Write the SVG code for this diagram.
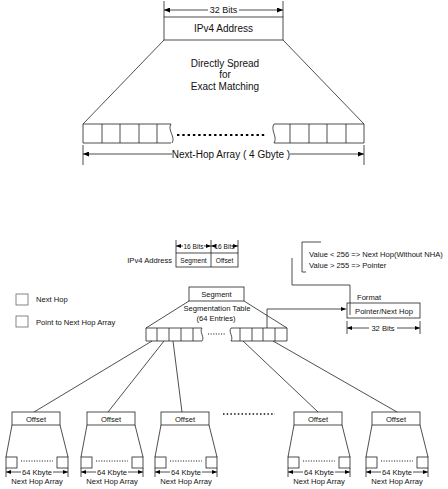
<svg xmlns="http://www.w3.org/2000/svg" width="448" height="489" viewBox="0 0 448 489">
<defs>
<marker id="arr" viewBox="0 0 10 10" refX="10" refY="5" markerWidth="6" markerHeight="5" markerUnits="userSpaceOnUse" orient="auto-start-reverse" preserveAspectRatio="none"><path d="M0,0 L10,5 L0,10 Z" fill="#000"/></marker>
<marker id="arrs" viewBox="0 0 10 10" refX="10" refY="5" markerWidth="5" markerHeight="4" markerUnits="userSpaceOnUse" orient="auto-start-reverse" preserveAspectRatio="none"><path d="M0,0 L10,5 L0,10 Z" fill="#000"/></marker>
</defs>
<style>
text{font-family:"Liberation Sans",Arial,sans-serif;fill:#111}
.ln{stroke:#222;stroke-width:0.8;fill:none}
.box{stroke:#222;stroke-width:0.8;fill:#fff}
.big{font-size:10px}
.mid{font-size:9px}
.sm{font-size:7.6px}
.xs{font-size:6.6px}
.c{text-anchor:middle}
.dots{stroke:#000;stroke-width:2.2;stroke-dasharray:2.4 2.9;fill:none}
.dots2{stroke:#222;stroke-width:1.2;stroke-dasharray:1.1 1.5;fill:none}
.sq{stroke:#666;stroke-width:0.8;fill:#fff}
</style>
<rect width="448" height="489" fill="#fff"/>

<!-- Top: direct spread -->
<g id="top-dim">
<line class="ln" x1="164" y1="1" x2="164" y2="17"/>
<line class="ln" x1="283" y1="1" x2="283" y2="17"/>
<line class="ln" x1="164" y1="10" x2="208" y2="10" marker-start="url(#arr)"/>
<line class="ln" x1="239" y1="10" x2="283" y2="10" marker-end="url(#arr)"/>
<text class="mid c" x="223.5" y="13.2">32 Bits</text>
</g>
<g id="ipv4-top">
<rect class="box" x="164" y="17" width="119" height="23"/>
<text class="big c" x="223.5" y="32">IPv4 Address</text>
</g>
<g id="spread-label">
<line class="ln" x1="164" y1="40" x2="83" y2="124"/>
<line class="ln" x1="283" y1="40" x2="364" y2="124"/>
<text class="big c" x="225" y="66.5">Directly Spread</text>
<text class="big c" x="225" y="77.5">for</text>
<text class="big c" x="225" y="89.5">Exact Matching</text>
</g>
<g id="next-hop-array">
<path class="ln" d="M171,124 H83 V143 H171"/>
<path class="ln" d="M102,124 V143 M120,124 V143 M139,124 V143 M157,124 V143"/>
<path class="ln" d="M171,124 C167,130 176,137 172,143"/>
<line class="dots" x1="177" y1="135" x2="267" y2="135"/>
<path class="ln" d="M274,124 H364 V143 H274"/>
<path class="ln" d="M274,124 C270,130 278,137 274,143"/>
<path class="ln" d="M290,124 V143 M309,124 V143 M327,124 V143 M346,124 V143"/>
</g>
<g id="array-dim">
<line class="ln" x1="83" y1="145" x2="83" y2="165"/>
<line class="ln" x1="364" y1="145" x2="364" y2="165"/>
<line class="ln" x1="83" y1="154" x2="172" y2="154" marker-start="url(#arr)"/>
<line class="ln" x1="290" y1="154" x2="364" y2="154" marker-end="url(#arr)"/>
<text class="big c" x="231" y="157.5">Next-Hop Array ( 4 Gbyte )</text>
</g>

<!-- Bottom: segmentation -->
<g id="legend">
<rect class="sq" x="16" y="294" width="12" height="11"/>
<text class="sm" x="36" y="302">Next Hop</text>
<rect class="sq" x="16" y="316" width="12" height="11"/>
<text class="sm" x="36" y="325">Point to Next Hop Array</text>
</g>
<g id="ipv4-split">
<text class="sm" x="172" y="263" text-anchor="end">IPv4 Address</text>
<rect class="box" x="176" y="253" width="62" height="14"/>
<line class="ln" x1="211" y1="253" x2="211" y2="267"/>
<text class="xs c" x="193.5" y="262.5">Segment</text>
<text class="xs c" x="224.5" y="262.5">Offset</text>
<line class="ln" x1="176" y1="240" x2="176" y2="253"/>
<line class="ln" x1="211" y1="240" x2="211" y2="253"/>
<line class="ln" x1="238" y1="240" x2="238" y2="253"/>
<line class="ln" x1="176" y1="246" x2="183" y2="246" marker-start="url(#arrs)"/>
<line class="ln" x1="204" y1="246" x2="211" y2="246" marker-end="url(#arrs)"/>
<line class="ln" x1="211" y1="246" x2="214" y2="246" marker-start="url(#arrs)"/>
<line class="ln" x1="235" y1="246" x2="238" y2="246" marker-end="url(#arrs)"/>
<text class="xs c" x="193.5" y="248.5">16 Bits</text>
<text class="xs c" x="224.5" y="248.5">16 Bits</text>
</g>
<g id="segment-key">
<rect class="box" x="189" y="287" width="55" height="14"/>
<text class="sm c" x="216.5" y="297">Segment</text>
</g>
<g id="segmentation-table">
<line class="ln" x1="189" y1="301" x2="146" y2="328"/>
<line class="ln" x1="244" y1="301" x2="287" y2="328"/>
<text class="sm c" x="217" y="311">Segmentation Table</text>
<text class="sm c" x="216" y="321">(64 Entries)</text>
<path class="ln" d="M202,328 H146 V341 H202"/>
<path class="ln" d="M157,328 V341 M169,328 V341 M181,328 V341 M193,328 V341"/>
<path class="ln" d="M202,328 C199,332 205,337 202,341"/>
<line class="dots2" x1="208" y1="334" x2="226" y2="334"/>
<path class="ln" d="M231,328 H287 V341 H231"/>
<path class="ln" d="M231,328 C228,332 234,337 231,341"/>
<path class="ln" d="M240,328 V341 M252,328 V341 M263,328 V341 M275,328 V341"/>
</g>
<g id="value-note">
<path class="ln" d="M321,242 H302 V272 H306"/>
<text class="sm" x="309" y="256.5">Value &lt; 256 =&gt; Next Hop(Without NHA)</text>
<text class="sm" x="309" y="267.5">Value &gt; 255 =&gt; Pointer</text>
</g>
<g id="format">
<text class="sm" x="357" y="299.5">Format</text>
<rect class="box" x="347" y="303" width="73" height="15"/>
<text class="sm c" x="384" y="314">Pointer/Next Hop</text>
<line class="ln" x1="347" y1="321" x2="347" y2="334"/>
<line class="ln" x1="420" y1="321" x2="420" y2="334"/>
<line class="ln" x1="347" y1="328" x2="369" y2="328" marker-start="url(#arrs)"/>
<line class="ln" x1="397" y1="328" x2="420" y2="328" marker-end="url(#arrs)"/>
<text class="sm c" x="383" y="331">32 Bits</text>
</g>

<g id="connectors">
<path class="ln" d="M267,328 V309 H346" marker-end="url(#arrs)"/>
<path class="ln" d="M292,258 V285 H350 V315"/>
<line class="ln" x1="152" y1="341" x2="34" y2="412"/>
<line class="ln" x1="164" y1="341" x2="108" y2="412"/>
<line class="ln" x1="173" y1="341" x2="182" y2="412"/>
<line class="ln" x1="243" y1="341" x2="318" y2="412"/>
<line class="ln" x1="273" y1="341" x2="397" y2="412"/>
</g>

<g id="sub-1" transform="translate(12,0)">
<rect class="box" x="0" y="412" width="48" height="13"/>
<text class="sm c" x="24" y="421.5">Offset</text>
<line class="ln" x1="0" y1="425" x2="-6" y2="457"/>
<line class="ln" x1="48" y1="425" x2="56" y2="457"/>
<rect class="box" x="-6" y="457" width="11" height="11"/>
<rect class="box" x="45" y="457" width="11" height="11"/>
<line class="dots2" x1="9" y1="461" x2="41" y2="461"/>
<line class="ln" x1="-6" y1="468" x2="-6" y2="477"/>
<line class="ln" x1="56" y1="468" x2="56" y2="477"/>
<line class="ln" x1="-6" y1="472" x2="9" y2="472" marker-start="url(#arrs)"/>
<line class="ln" x1="41" y1="472" x2="56" y2="472" marker-end="url(#arrs)"/>
<text class="sm c" x="25" y="475">64 Kbyte</text>
<text class="sm c" x="25" y="484">Next Hop Array</text>
</g>
<g id="sub-2" transform="translate(87,0)">
<rect class="box" x="0" y="412" width="48" height="13"/>
<text class="sm c" x="24" y="421.5">Offset</text>
<line class="ln" x1="0" y1="425" x2="-6" y2="457"/>
<line class="ln" x1="48" y1="425" x2="56" y2="457"/>
<rect class="box" x="-6" y="457" width="11" height="11"/>
<rect class="box" x="45" y="457" width="11" height="11"/>
<line class="dots2" x1="9" y1="461" x2="41" y2="461"/>
<line class="ln" x1="-6" y1="468" x2="-6" y2="477"/>
<line class="ln" x1="56" y1="468" x2="56" y2="477"/>
<line class="ln" x1="-6" y1="472" x2="9" y2="472" marker-start="url(#arrs)"/>
<line class="ln" x1="41" y1="472" x2="56" y2="472" marker-end="url(#arrs)"/>
<text class="sm c" x="25" y="475">64 Kbyte</text>
<text class="sm c" x="25" y="484">Next Hop Array</text>
</g>
<g id="sub-3" transform="translate(161,0)">
<rect class="box" x="0" y="412" width="48" height="13"/>
<text class="sm c" x="24" y="421.5">Offset</text>
<line class="ln" x1="0" y1="425" x2="-6" y2="457"/>
<line class="ln" x1="48" y1="425" x2="56" y2="457"/>
<rect class="box" x="-6" y="457" width="11" height="11"/>
<rect class="box" x="45" y="457" width="11" height="11"/>
<line class="dots2" x1="9" y1="461" x2="41" y2="461"/>
<line class="ln" x1="-6" y1="468" x2="-6" y2="477"/>
<line class="ln" x1="56" y1="468" x2="56" y2="477"/>
<line class="ln" x1="-6" y1="472" x2="9" y2="472" marker-start="url(#arrs)"/>
<line class="ln" x1="41" y1="472" x2="56" y2="472" marker-end="url(#arrs)"/>
<text class="sm c" x="25" y="475">64 Kbyte</text>
<text class="sm c" x="25" y="484">Next Hop Array</text>
</g>
<line id="sub-ellipsis" x1="223" y1="414" x2="275" y2="414" stroke="#111" stroke-width="1.5" stroke-dasharray="1.5 2.2"/>
<g id="sub-4" transform="translate(294,0)">
<rect class="box" x="0" y="412" width="48" height="13"/>
<text class="sm c" x="24" y="421.5">Offset</text>
<line class="ln" x1="0" y1="425" x2="-6" y2="457"/>
<line class="ln" x1="48" y1="425" x2="56" y2="457"/>
<rect class="box" x="-6" y="457" width="11" height="11"/>
<rect class="box" x="45" y="457" width="11" height="11"/>
<line class="dots2" x1="9" y1="461" x2="41" y2="461"/>
<line class="ln" x1="-6" y1="468" x2="-6" y2="477"/>
<line class="ln" x1="56" y1="468" x2="56" y2="477"/>
<line class="ln" x1="-6" y1="472" x2="9" y2="472" marker-start="url(#arrs)"/>
<line class="ln" x1="41" y1="472" x2="56" y2="472" marker-end="url(#arrs)"/>
<text class="sm c" x="25" y="475">64 Kbyte</text>
<text class="sm c" x="25" y="484">Next Hop Array</text>
</g>
<g id="sub-5" transform="translate(372,0)">
<rect class="box" x="0" y="412" width="48" height="13"/>
<text class="sm c" x="24" y="421.5">Offset</text>
<line class="ln" x1="0" y1="425" x2="-6" y2="457"/>
<line class="ln" x1="48" y1="425" x2="56" y2="457"/>
<rect class="box" x="-6" y="457" width="11" height="11"/>
<rect class="box" x="45" y="457" width="11" height="11"/>
<line class="dots2" x1="9" y1="461" x2="41" y2="461"/>
<line class="ln" x1="-6" y1="468" x2="-6" y2="477"/>
<line class="ln" x1="56" y1="468" x2="56" y2="477"/>
<line class="ln" x1="-6" y1="472" x2="9" y2="472" marker-start="url(#arrs)"/>
<line class="ln" x1="41" y1="472" x2="56" y2="472" marker-end="url(#arrs)"/>
<text class="sm c" x="25" y="475">64 Kbyte</text>
<text class="sm c" x="25" y="484">Next Hop Array</text>
</g>
</svg>
